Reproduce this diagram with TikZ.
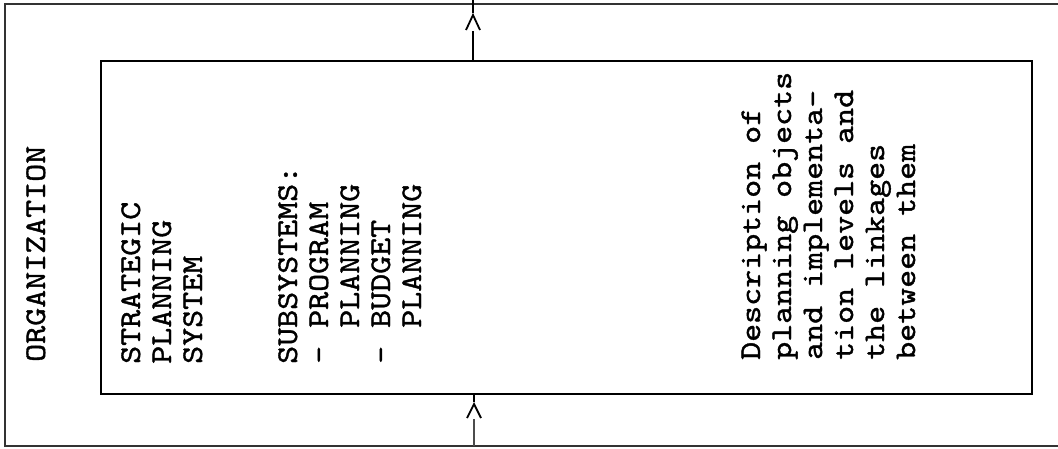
\documentclass[tikz,border=0pt]{standalone}
\usepackage{fontspec}
\newfontfamily\monofont{lmmono10-regular.otf}[FakeStretch=1.143,FakeBold=1.2]
\usetikzlibrary{calc}
\begin{document}
\begin{tikzpicture}[x=1pt,y=-1pt,
  txt/.style={font=\monofont\fontsize{30}{31}\selectfont, anchor=base west, rotate=90, inner sep=0pt},
  outerline/.style={line width=1.4pt, draw=black!80},
  innerbox/.style={line width=2.2pt, draw=black},
  flow/.style={line width=1.6pt},
  thinflow/.style={line width=1.1pt, draw=black!70},
  chev/.style={line width=1.8pt, line join=miter}]
\useasboundingbox (0,0) rectangle (1058,448);
% outer frame (open on the right)
\draw[outerline] (1058,4) -- (5,4) -- (5,446) -- (1058,446);
% inner box
\node[innerbox, minimum width=931pt, minimum height=333pt, anchor=north west, inner sep=0pt] (sps) at (100,60) {};
% arrow markers
\coordinate (topend) at (473,0);
\coordinate (ttip) at (473,15);
\coordinate (botend) at (474,446);
\coordinate (btip) at (474,404);
\draw[flow] (sps.north -| ttip) -- ($(ttip)+(0,16)$);
\draw[chev] ($(ttip)+(-7,15)$) -- (ttip) -- ($(ttip)+(7,15)$);
\draw[flow] ($(ttip)+(0,-2)$) -- (topend);
\draw[thinflow] (botend) -- ($(btip)+(0,15)$);
\draw[chev] ($(btip)+(-7,14)$) -- (btip) -- ($(btip)+(7,14)$);
\draw[flow] ($(btip)+(0,-2)$) -- (sps.south -| btip);
% texts
\node[txt] (org) at (45,362) {ORGANIZATION};
\node[txt] (s1) at (140,364) {STRATEGIC};
\node[txt] (s2) at (171,364) {PLANNING};
\node[txt] (s3) at (202,364) {SYSTEM};
\node[txt] (u1) at (297,364) {SUBSYSTEMS:};
\node[txt] (u2) at (328,364) {- PROGRAM};
\node[txt] (u3) at (359,364) {\hphantom{- }PLANNING};
\node[txt] (u4) at (390,364) {- BUDGET};
\node[txt] (u5) at (421,364) {\hphantom{- }PLANNING};
\node[txt] (d1) at (760,360) {Description of};
\node[txt] (d2) at (791,360) {planning objects};
\node[txt] (d3) at (822,360) {and implementa-};
\node[txt] (d4) at (853,360) {tion levels and};
\node[txt] (d5) at (884,360) {the linkages};
\node[txt] (d6) at (915,360) {between them};
\end{tikzpicture}
\end{document}
